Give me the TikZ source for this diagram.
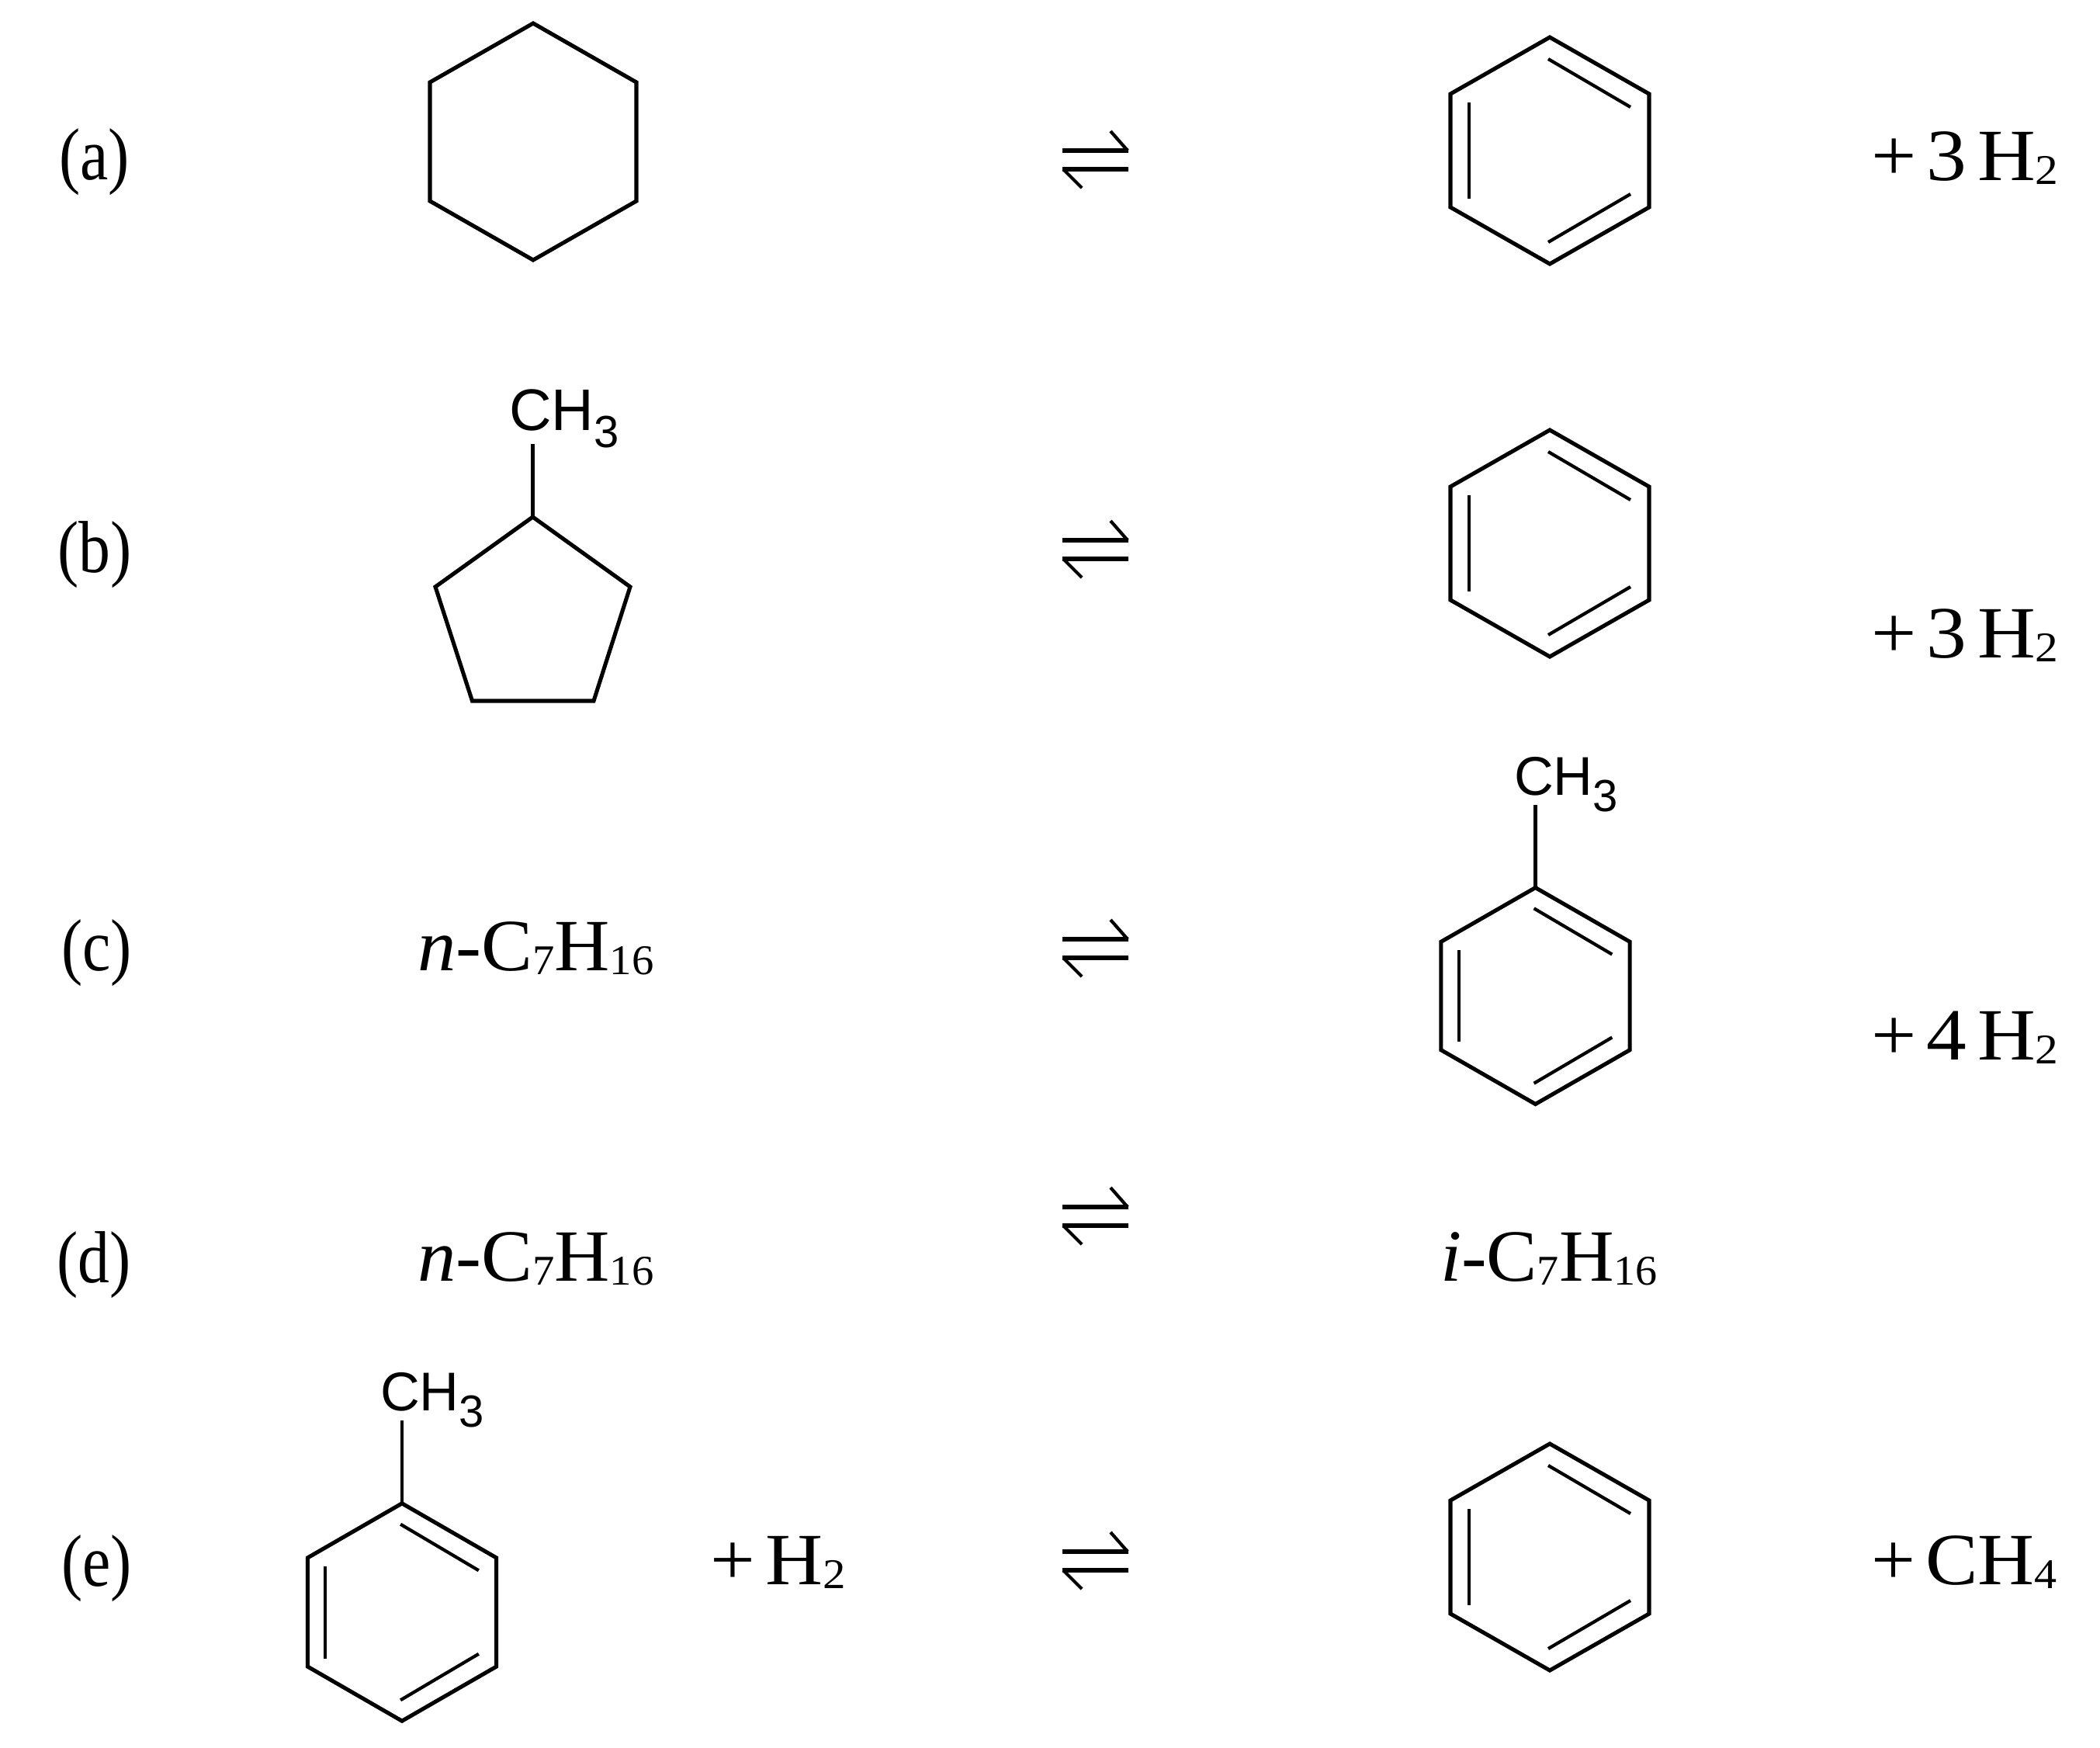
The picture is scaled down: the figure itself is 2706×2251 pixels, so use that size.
\documentclass[tikz,border=0pt]{standalone}
\usepackage{fontspec}
\setmainfont{Liberation Serif}
\newfontfamily\chemfont{Liberation Sans}
\newcommand{\lowsub}[1]{\raisebox{-0.06em}{\fontsize{15.5}{15.5}\selectfont #1}}
\newcommand{\chemsub}[1]{\raisebox{-0.3em}{\fontsize{16.5}{16.5}\selectfont #1}}
\newcommand{\fitx}[2]{\scalebox{#1}[1]{#2}}
\newcommand{\narrow}[1]{\scalebox{0.86}[1]{#1}}
\newcommand{\plusgap}{\hspace{0.13em}}
\tikzset{
  x=0.01cm,y=-0.01cm,
  bond/.style={line width=1.45pt,line join=miter,black},
  innerbond/.style={line width=1.2pt,black},
  eqline/.style={line width=1.9pt,black},
  eqbarb/.style={line width=1.2pt,black},
  chemtxt/.style={anchor=base west,inner sep=0pt,outer sep=0pt,font=\fontsize{27}{30}\selectfont},
  methyl/.style={anchor=base west,inner sep=0pt,outer sep=0pt,font=\chemfont\fontsize{20}{22}\selectfont}
}
% ring with three inner double bonds, centred on the given point
\newcommand{\aromatic}[4]{%
  \begin{scope}[shift={(#1,#2)},xscale=#3,yscale=#4]
    \draw[bond] (0,-146) -- (128,-73) -- (128,73) -- (0,146) -- (-128,73) -- (-128,-73) -- cycle;
    \draw[innerbond] (-104,-62) -- (-104,62);
    \draw[innerbond] (-2,-118) -- (104,-56);
    \draw[innerbond] (104,56) -- (-2,118);
  \end{scope}}
% equilibrium arrow, centred on the given point
\newcommand{\equil}[2]{%
  \begin{scope}[shift={(#1,#2)}]
    \draw[eqline] (-43,-12) -- (42,-12);
    \draw[eqbarb] (41,-12) -- (19,-37);
    \draw[eqline] (-43,12) -- (42,12);
    \draw[eqbarb] (-42,12) -- (-18,36);
  \end{scope}}
\begin{document}
\begin{tikzpicture}
\useasboundingbox (0,0) rectangle (2706,2251);
% labels
\node[chemtxt] (la) at (76,231) {\narrow{(a)}};
\node[chemtxt] (lb) at (74,737) {\narrow{(b)}};
\node[chemtxt] (lc) at (79,1250) {\narrow{(c)}};
\node[chemtxt] (ld) at (73,1652) {\narrow{(d)}};
\node[chemtxt] (le) at (79,2043) {\narrow{(e)}};
% row a
\draw[bond] (687,30) -- (820,106) -- (820,259) -- (687,335) -- (554,259) -- (554,106) -- cycle;
\equil{1412}{206}
\aromatic{1997}{194}{1}{1}
\node[chemtxt] (pa) at (2411,232) {\fitx{1.09}{+\plusgap 3\plusgap H\lowsub{2}}};
% row b
\draw[bond] (686.5,666) -- (812,756) -- (765,903) -- (608.5,903) -- (561,756) -- cycle;
\draw[innerbond] (686.5,666) -- (686.5,572);
\node[methyl,font=\chemfont\fontsize{21.5}{24}\selectfont] (mb) at (656,554) {CH\chemsub{3}};
\equil{1412}{708}
\aromatic{1997}{700}{1}{1}
\node[chemtxt] (pb) at (2411,847) {\fitx{1.09}{+\plusgap 3\plusgap H\lowsub{2}}};
% row c
\node[chemtxt] (nc) at (538,1250) {\fitx{1.04}{\textit{n}-C\lowsub{7}H\lowsub{16}}};
\equil{1412}{1222}
\aromatic{1978.5}{1283}{0.95}{0.955}
\draw[innerbond] (1978.5,1143) -- (1978.5,1037);
\node[methyl] (mc) at (1951,1024) {CH\chemsub{3}};
\node[chemtxt] (pc) at (2411,1365) {\fitx{1.09}{+\plusgap 4\plusgap H\lowsub{2}}};
% row d
\node[chemtxt] (nd) at (538,1650) {\fitx{1.04}{\textit{n}-C\lowsub{7}H\lowsub{16}}};
\equil{1412}{1567}
\node[chemtxt] (id) at (1856,1650) {\fitx{1.03}{\textit{i}-C\lowsub{7}H\lowsub{16}}};
% row e
\aromatic{518}{2077}{0.95}{0.96}
\draw[innerbond] (518,1936) -- (518,1830);
\node[methyl] (me) at (490,1817) {CH\chemsub{3}};
\node[chemtxt] (pe) at (915,2041) {\fitx{1.08}{+\plusgap H\lowsub{2}}};
\equil{1412}{2011}
\aromatic{1997}{2006}{1}{1}
\node[chemtxt] (ce) at (2411,2041) {\fitx{1.065}{+\plusgap CH\lowsub{4}}};
\end{tikzpicture}
\end{document}
